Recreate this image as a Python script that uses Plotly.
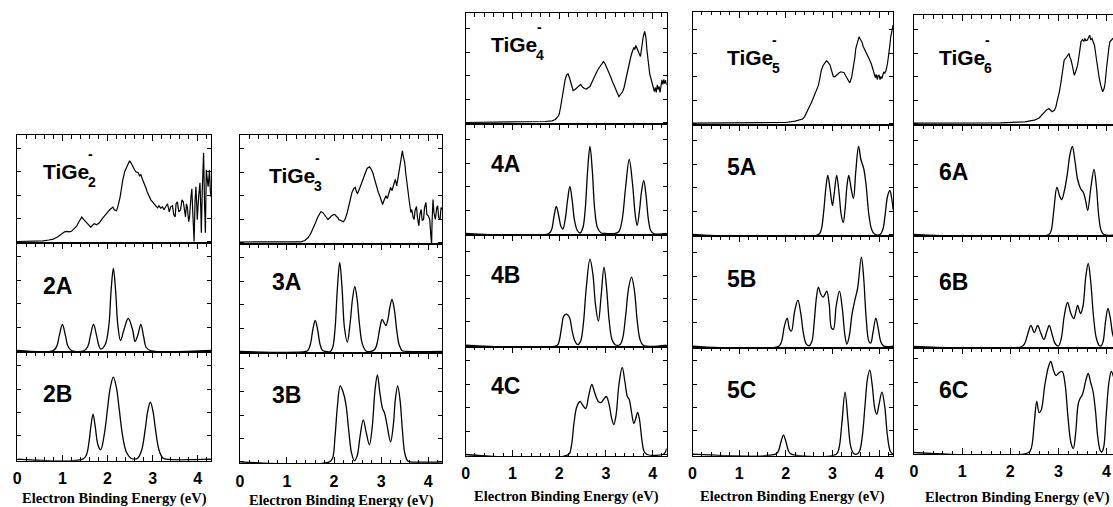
import plotly.graph_objects as go

# ---------------- data: (binding energy eV, intensity a.u.) ----------------
TIGE2 = [(0, 0.3), (0.2, 0.5), (0.4, 0.4), (0.58, 1.0), (0.7, 1.8), (0.8, 2.7), (0.9, 5), (1.0, 8.7),
         (1.05, 10), (1.1, 10.5), (1.15, 10), (1.2, 10.5), (1.26, 13), (1.32, 16), (1.38, 21), (1.43, 24.7),
         (1.48, 22), (1.54, 19), (1.6, 16), (1.63, 14.7), (1.68, 17), (1.71, 18), (1.76, 17), (1.82, 19),
         (1.88, 23), (1.93, 25.3), (1.99, 29), (2.05, 32), (2.08, 33), (2.12, 34.7), (2.15, 32), (2.2, 31),
         (2.24, 37), (2.28, 45), (2.34, 62), (2.38, 70), (2.43, 75), (2.47, 80), (2.49, 81), (2.52, 79),
         (2.56, 75), (2.6, 72), (2.63, 70), (2.68, 69), (2.71, 66), (2.74, 67), (2.77, 63), (2.81, 59),
         (2.85, 54), (2.88, 50), (2.92, 46), (2.96, 42), (3.0, 40), (3.04, 37), (3.07, 36), (3.11, 34),
         (3.14, 36), (3.18, 33.7), (3.22, 35), (3.25, 32), (3.29, 34.7), (3.33, 38), (3.37, 30), (3.4, 35),
         (3.44, 36), (3.47, 27), (3.5, 25), (3.52, 38), (3.55, 40), (3.58, 30), (3.62, 32), (3.65, 42),
         (3.68, 40), (3.71, 28), (3.73, 25), (3.75, 38), (3.77, 35), (3.8, 20), (3.82, 25), (3.85, 45),
         (3.87, 53), (3.89, 30), (3.92, 0.3), (3.94, 40), (3.96, 55), (3.98, 35), (3.99, 22), (4.02, 45),
         (4.05, 59), (4.07, 30), (4.08, 9), (4.1, 50), (4.13, 89), (4.15, 40), (4.17, 9), (4.19, 72),
         (4.21, 60), (4.23, 55), (4.25, 65), (4.26, 72), (4.28, 50), (4.3, 45)]

SIM_2A = [(0, 0), (0.80, 0), (0.88, 4.7), (0.93, 14.6), (1.00, 26), (1.07, 14.6), (1.12, 4.7), (1.20, 0),
          (1.49, 0), (1.57, 4.7), (1.62, 14.6), (1.69, 26), (1.76, 14.6), (1.81, 4.7), (1.85, 1.5),
          (1.95, 6), (2.03, 25), (2.08, 60), (2.13, 82), (2.18, 60), (2.23, 25), (2.29, 10), (2.36, 20),
          (2.46, 32), (2.56, 20), (2.61, 9), (2.67, 15), (2.74, 26), (2.80, 14), (2.86, 3), (2.95, 0), (4.3, 0)]

SIM_2B = [(0, 0), (1.45, 0), (1.53, 4), (1.59, 17), (1.63, 32), (1.68, 45), (1.73, 32), (1.79, 14),
          (1.85, 9.5), (1.93, 25), (2.00, 50), (2.06, 71), (2.13, 82), (2.20, 71), (2.26, 50), (2.34, 22),
          (2.42, 7), (2.52, 1), (2.60, 0), (2.68, 1.5), (2.76, 9.4), (2.84, 31), (2.89, 47.6), (2.95, 57),
          (3.01, 47.6), (3.06, 31), (3.14, 9.4), (3.22, 1.5), (3.30, 0), (4.3, 0)]

TIGE3 = [(0, 0.5), (0.5, 0.5), (1.0, 0.5), (1.3, 0.7), (1.38, 2), (1.45, 5), (1.5, 8.5), (1.55, 13),
         (1.6, 19), (1.65, 25), (1.69, 29), (1.72, 30.7), (1.76, 30), (1.8, 28), (1.84, 25), (1.87, 23),
         (1.91, 25), (1.95, 26.7), (2.0, 28), (2.03, 27.5), (2.05, 26), (2.08, 25), (2.1, 23), (2.15, 22),
         (2.2, 20.7), (2.24, 24), (2.28, 30), (2.33, 40), (2.38, 50), (2.42, 54), (2.45, 55), (2.48, 50),
         (2.5, 49), (2.55, 55), (2.6, 61.7), (2.65, 68), (2.7, 74), (2.75, 75.7), (2.78, 74), (2.82, 70),
         (2.86, 63), (2.9, 56.7), (2.94, 50), (2.97, 46.7), (3.0, 42), (3.03, 38), (3.06, 42), (3.1, 46.7),
         (3.13, 44), (3.16, 50), (3.2, 55), (3.23, 52), (3.26, 58), (3.3, 63), (3.33, 56.7), (3.36, 66),
         (3.4, 80), (3.43, 88), (3.45, 91.7), (3.47, 86), (3.5, 80), (3.52, 70), (3.55, 56.7), (3.58, 46),
         (3.6, 40), (3.63, 30), (3.65, 33), (3.68, 25), (3.7, 23), (3.72, 32), (3.75, 36), (3.77, 25),
         (3.8, 16.7), (3.82, 28), (3.85, 33), (3.87, 22), (3.9, 23), (3.92, 35), (3.95, 40), (3.97, 28),
         (4.0, 26.7), (4.03, 23), (4.05, 10), (4.07, -2.7), (4.08, 20), (4.1, 43), (4.12, 30), (4.15, 23),
         (4.18, 35), (4.2, 36.7), (4.22, 25), (4.25, 23), (4.27, 35), (4.3, 33)]

SIM_3A = [(0, 0), (1.40, 0), (1.45, 1.4), (1.50, 7.7), (1.55, 22), (1.60, 31), (1.65, 22), (1.70, 7.7),
          (1.75, 1.4), (1.82, 0), (1.92, 0), (1.97, 4), (2.02, 22), (2.07, 63), (2.12, 89), (2.17, 63),
          (2.22, 24), (2.28, 9.5), (2.34, 28), (2.39, 52), (2.44, 65), (2.49, 52), (2.54, 27), (2.60, 7.6),
          (2.68, 0.5), (2.78, 0), (2.87, 2.5), (2.92, 9.5), (2.97, 23), (3.02, 32), (3.07, 28), (3.10, 26),
          (3.15, 33.7), (3.18, 43), (3.23, 52), (3.28, 41.6), (3.33, 21.4), (3.38, 7), (3.45, 0.7),
          (3.55, 0), (4.3, 0)]

SIM_3B = [(0, 0), (1.90, 0), (1.97, 4), (2.02, 25), (2.07, 55), (2.13, 76), (2.19, 70), (2.25, 58),
          (2.31, 32), (2.37, 9), (2.43, 1), (2.49, 6), (2.55, 25), (2.62, 42), (2.68, 30), (2.75, 17),
          (2.81, 35), (2.87, 72), (2.92, 87), (2.97, 70), (3.03, 53), (3.07, 49), (3.12, 38), (3.20, 20),
          (3.26, 38), (3.30, 62), (3.35, 76), (3.40, 62), (3.45, 32), (3.50, 9), (3.56, 1), (3.62, 0), (4.3, 0)]

TIGE4 = [(0, 0), (0.5, 0.2), (1.0, 0.3), (1.5, 0.7), (1.7, 1), (1.85, 1.7), (1.92, 3), (1.96, 5), (2.0, 8),
         (2.03, 15), (2.06, 25), (2.1, 36), (2.13, 43), (2.16, 47.5), (2.19, 48.7), (2.22, 45), (2.26, 38),
         (2.3, 32), (2.34, 33), (2.38, 35), (2.42, 37), (2.46, 38), (2.5, 35.5), (2.54, 34), (2.58, 33.5),
         (2.62, 34.5), (2.66, 36), (2.7, 40), (2.74, 44), (2.78, 49), (2.82, 52), (2.86, 55), (2.9, 58),
         (2.93, 60.5), (2.95, 61), (2.98, 59), (3.02, 55), (3.06, 51), (3.1, 46), (3.14, 41), (3.18, 36),
         (3.2, 35), (3.23, 31), (3.26, 28), (3.28, 26), (3.3, 27.5), (3.33, 30), (3.36, 31), (3.39, 35),
         (3.42, 42), (3.46, 51), (3.5, 59), (3.53, 65), (3.56, 70), (3.58, 72.7), (3.6, 75), (3.62, 73),
         (3.64, 77), (3.66, 75), (3.68, 72), (3.7, 70), (3.72, 68), (3.74, 66), (3.76, 71), (3.78, 79),
         (3.8, 86), (3.82, 90), (3.83, 91), (3.85, 87), (3.86, 84), (3.88, 72), (3.9, 63), (3.92, 55),
         (3.94, 48), (3.96, 45), (3.98, 40), (4.0, 37.7), (4.02, 34), (4.04, 31), (4.06, 35), (4.08, 30),
         (4.1, 37.7), (4.12, 33), (4.14, 36), (4.16, 30), (4.18, 38), (4.2, 42.7), (4.22, 38), (4.24, 43),
         (4.26, 39), (4.28, 42), (4.3, 37.7)]

SIM_4A = [(0, 0), (1.78, 0), (1.84, 4), (1.89, 17), (1.94, 27), (1.99, 18), (2.04, 7), (2.08, 4.5),
          (2.13, 14), (2.18, 33), (2.23, 47), (2.28, 33), (2.33, 13), (2.39, 3), (2.45, 0.5), (2.51, 6),
          (2.56, 25), (2.61, 63), (2.66, 87), (2.71, 63), (2.76, 25), (2.82, 6), (2.90, 0.5), (3.0, 0),
          (3.20, 0), (3.28, 2), (3.35, 14), (3.42, 45), (3.50, 74), (3.57, 50), (3.63, 18), (3.67, 8),
          (3.72, 23), (3.76, 41), (3.81, 53), (3.86, 38), (3.91, 14), (3.96, 3), (4.02, 0), (4.3, 0)]

SIM_4B = [(0, 0), (1.96, 0), (2.0, 4), (2.05, 17), (2.10, 29), (2.16, 31), (2.22, 28), (2.28, 14),
          (2.34, 4), (2.40, 0.5), (2.46, 4), (2.52, 22), (2.58, 57), (2.66, 86), (2.72, 72), (2.78, 40),
          (2.84, 24), (2.90, 50), (2.96, 78), (3.01, 60), (3.07, 25), (3.13, 6), (3.2, 0.5), (3.3, 0.5),
          (3.36, 7), (3.42, 28), (3.49, 58), (3.55, 68), (3.61, 55), (3.67, 25), (3.73, 6), (3.80, 0), (4.3, 0)]

SIM_4C = [(0, 0), (2.20, 0), (2.26, 8), (2.32, 32), (2.38, 48), (2.45, 53), (2.51, 49), (2.57, 46),
          (2.63, 58), (2.70, 70), (2.76, 62), (2.84, 53), (2.90, 52), (2.95, 55), (3.01, 58), (3.07, 50),
          (3.12, 37), (3.17, 30), (3.22, 40), (3.28, 70), (3.35, 87), (3.41, 72), (3.46, 58), (3.50, 55),
          (3.55, 42), (3.60, 31), (3.64, 36), (3.68, 42), (3.72, 35), (3.77, 15), (3.82, 3), (3.88, 0),
          (4.22, 0), (4.27, 2), (4.3, 6)]

TIGE5 = [(0, 0.3), (1.0, 0.3), (1.5, 0.4), (2.0, 1), (2.2, 2.3), (2.3, 3.3), (2.36, 4.5), (2.4, 6.7),
         (2.45, 11), (2.5, 16.7), (2.55, 21), (2.6, 26.7), (2.65, 32), (2.7, 38.3), (2.73, 45), (2.76, 53),
         (2.8, 58), (2.84, 61.5), (2.87, 62.7), (2.9, 61.5), (2.95, 58.3), (2.98, 53), (3.0, 50), (3.02, 47),
         (3.05, 46.7), (3.08, 48), (3.1, 49.3), (3.14, 50.5), (3.18, 51.7), (3.22, 51), (3.25, 50.7),
         (3.28, 48), (3.3, 46), (3.34, 42), (3.37, 40.7), (3.41, 46), (3.45, 56.7), (3.48, 66), (3.5, 75),
         (3.53, 81), (3.57, 86.7), (3.6, 84), (3.63, 81.7), (3.66, 77), (3.7, 73.3), (3.74, 70), (3.78, 66),
         (3.8, 63.3), (3.83, 60), (3.86, 56), (3.88, 52), (3.9, 50.7), (3.92, 46), (3.94, 49), (3.96, 44),
         (3.98, 48), (4.0, 48.3), (4.02, 44), (4.04, 47), (4.06, 45), (4.08, 50), (4.1, 51.7), (4.12, 50),
         (4.15, 53.3), (4.18, 60), (4.2, 70), (4.23, 78), (4.25, 86.7), (4.28, 93), (4.3, 98.3)]

SIM_5A = [(0, 0), (2.70, 0), (2.76, 5), (2.81, 22), (2.86, 47), (2.90, 59), (2.95, 45), (3.00, 29),
          (3.04, 42), (3.09, 59), (3.14, 42), (3.19, 19), (3.23, 12), (3.27, 25), (3.31, 48), (3.35, 59),
          (3.40, 46), (3.45, 36), (3.50, 63), (3.56, 88), (3.61, 75), (3.67, 66), (3.72, 50), (3.78, 20),
          (3.84, 5), (3.90, 0.5), (4.02, 0), (4.08, 5), (4.13, 20), (4.18, 38), (4.23, 44), (4.27, 36), (4.30, 25)]

SIM_5B = [(0, 0), (1.85, 0), (1.91, 5), (1.97, 20), (2.03, 28), (2.08, 17), (2.12, 15), (2.19, 35),
          (2.26, 46), (2.32, 33), (2.38, 12), (2.44, 2), (2.50, 0.5), (2.56, 5), (2.61, 25), (2.66, 50),
          (2.70, 59), (2.75, 52), (2.80, 49), (2.84, 52), (2.88, 55), (2.93, 42), (2.98, 18), (3.02, 17),
          (3.08, 40), (3.15, 55), (3.21, 38), (3.27, 10), (3.31, 2), (3.36, 10), (3.42, 32), (3.48, 46),
          (3.54, 58), (3.62, 89), (3.67, 68), (3.72, 30), (3.78, 5), (3.82, 3), (3.87, 14), (3.93, 28),
          (3.98, 18), (4.04, 4), (4.10, 0), (4.3, 0)]

SIM_5C = [(0, 0), (1.78, 0), (1.84, 3), (1.90, 13), (1.95, 19), (2.00, 13), (2.06, 3), (2.12, 0),
          (3.08, 0), (3.14, 6), (3.20, 30), (3.27, 62), (3.33, 35), (3.39, 8), (3.45, 1), (3.52, 0),
          (3.58, 3), (3.64, 18), (3.70, 50), (3.75, 75), (3.80, 84), (3.85, 70), (3.91, 45), (3.95, 40),
          (4.00, 50), (4.06, 62), (4.12, 48), (4.18, 18), (4.24, 3), (4.3, 0)]

TIGE6 = [(0, 0.3), (1.0, 0.5), (1.8, 0.7), (2.3, 1.7), (2.5, 3.3), (2.6, 5.5), (2.65, 8.3), (2.7, 11),
         (2.75, 13.3), (2.8, 15), (2.84, 13), (2.87, 11.7), (2.92, 13.3), (2.95, 17), (2.97, 21.7), (3.0, 27),
         (3.02, 31.7), (3.05, 40), (3.07, 48.3), (3.1, 57), (3.12, 63.3), (3.15, 65), (3.17, 66.7), (3.2, 68),
         (3.22, 70), (3.24, 66), (3.26, 64), (3.28, 60), (3.3, 55), (3.33, 48.3), (3.36, 52), (3.4, 58.3),
         (3.43, 68), (3.47, 81.7), (3.5, 84), (3.53, 82), (3.55, 85), (3.57, 83), (3.6, 83.3), (3.62, 86),
         (3.65, 88.3), (3.67, 84), (3.7, 85), (3.72, 82), (3.75, 78.3), (3.78, 68), (3.82, 53.3), (3.85, 45),
         (3.88, 38.3), (3.92, 31.7), (3.95, 35), (3.97, 40), (4.0, 55), (4.02, 66.7), (4.05, 76), (4.07, 81.7),
         (4.1, 83.3), (4.13, 85), (4.2, 86)]

SIM_6A = [(0, 0), (2.80, 0), (2.85, 4), (2.90, 22), (2.97, 47), (3.03, 38), (3.07, 35), (3.13, 45),
          (3.19, 62), (3.24, 80), (3.29, 88), (3.34, 75), (3.40, 55), (3.46, 46), (3.52, 42), (3.57, 33),
          (3.61, 24), (3.67, 45), (3.74, 65), (3.79, 48), (3.84, 18), (3.89, 4), (3.95, 0), (4.3, 0)]

SIM_6B = [(0, 0), (2.24, 0), (2.30, 3), (2.36, 12), (2.43, 21), (2.50, 14), (2.57, 21), (2.63, 14),
          (2.70, 7), (2.76, 15), (2.81, 21), (2.87, 12), (2.93, 3), (3.0, 0.5), (3.06, 8), (3.12, 30),
          (3.19, 44), (3.26, 33), (3.32, 28), (3.36, 34), (3.40, 41), (3.46, 33), (3.51, 40), (3.57, 70),
          (3.62, 83), (3.67, 66), (3.73, 30), (3.79, 8), (3.85, 1), (3.89, 0.5), (3.93, 5), (3.98, 25),
          (4.03, 38), (4.08, 28), (4.13, 12), (4.2, 3)]

SIM_6C = [(0, 0), (2.38, 0), (2.44, 5), (2.50, 30), (2.55, 51), (2.60, 40), (2.64, 42), (2.72, 68),
          (2.79, 85), (2.84, 91), (2.90, 82), (2.95, 77), (3.02, 80), (3.08, 81), (3.14, 68), (3.20, 35),
          (3.26, 10), (3.31, 4), (3.36, 20), (3.41, 48), (3.45, 54), (3.50, 58), (3.57, 72), (3.62, 79),
          (3.67, 70), (3.72, 61), (3.77, 42), (3.82, 15), (3.87, 2), (3.90, 0.5), (3.94, 5), (3.99, 35),
          (4.05, 70), (4.10, 81), (4.15, 75)]

X_TICKS = [0, 1, 2, 3, 4]
X_TITLE = "Electron Binding Energy (eV)"

# ---------------- layout description ----------------
W, H = 1113, 507
SANS = "Liberation Sans, Arial, Helvetica, sans-serif"
SERIF = "Liberation Serif, Times New Roman, Times, serif"

COLUMNS = [
    dict(x0=13.3, x1=208.0, xmax=4.3, right=True, rows=[135, 243.3, 352, 460.7], title_y=498,
         panels=[(TIGE2, "exp", "2", 0.52, 70), (SIM_2A, "sim", "2A", 0.52, 64.5),
                 (SIM_2B, "sim", "2B", 0.52, 65)]),
    dict(x0=236.7, x1=440.0, xmax=4.3, right=True, rows=[135, 244, 353, 463.3], title_y=500,
         panels=[(TIGE3, "exp", "3", 0.58, 67), (SIM_3A, "sim", "3A", 0.65, 70),
                 (SIM_3B, "sim", "3B", 0.63, 67)]),
    dict(x0=463.3, x1=665.0, xmax=4.3, right=True, rows=[13.3, 124, 235, 346.7, 456], title_y=496.5,
         panels=[(TIGE4, "exp", "4", 0.5, 78), (SIM_4A, "sim", "4A", 0.51, 70),
                 (SIM_4B, "sim", "4B", 0.51, 70), (SIM_4C, "sim", "4C", 0.51, 69)]),
    dict(x0=691.0, x1=892.3, xmax=4.3, right=True, rows=[11.7, 125, 236, 347.7, 455.7], title_y=496,
         panels=[(TIGE5, "exp", "5", 0.69, 66), (SIM_5A, "sim", "5A", 0.69, 67.5),
                 (SIM_5B, "sim", "5B", 0.69, 67), (SIM_5C, "sim", "5C", 0.69, 64.5)]),
    dict(x0=913.3, x1=1113.0, xmax=4.135, right=False, rows=[15, 125, 236, 348, 454], title_y=497,
         panels=[(TIGE6, "exp", "6", 0.48, 66), (SIM_6A, "sim", "6A", 0.48, 63),
                 (SIM_6B, "sim", "6B", 0.48, 65), (SIM_6C, "sim", "6C", 0.48, 63)]),
]

fig = go.Figure()
layout = {}
annotations = []
n = 0
for col in COLUMNS:
    npan = len(col["panels"])
    xdom = [col["x0"] / W, min(col["x1"] / W, 1.0)]
    for k, (data, kind, label, lx, ly) in enumerate(col["panels"]):
        n += 1
        sfx = "" if n == 1 else str(n)
        top, bot = col["rows"][k], col["rows"][k + 1]
        hpx = bot - top
        is_bottom = (k == npan - 1)
        layout["xaxis" + sfx] = dict(
            domain=xdom, anchor="y" + sfx, range=[0, col["xmax"]],
            showline=True, linecolor="black", linewidth=1,
            mirror="ticks" if is_bottom else True,
            side="bottom" if is_bottom else "top",
            ticks="inside", ticklen=6, tickwidth=1, tickcolor="black",
            tickmode="array", tickvals=X_TICKS, ticktext=["<b>%d</b>" % t for t in X_TICKS],
            minor=dict(dtick=0.2, tick0=0, ticks="inside", ticklen=3.5, tickwidth=1, tickcolor="black"),
            showticklabels=is_bottom, ticklabelstandoff=3,
            tickfont=dict(family=SANS, size=16, color="black"),
            showgrid=False, zeroline=False,
        )
        layout["yaxis" + sfx] = dict(
            domain=[1 - bot / H, 1 - top / H], anchor="x" + sfx, range=[-1.5, hpx - 1.5],
            showline=True, linecolor="black", linewidth=1,
            mirror="ticks" if col["right"] else False,
            ticks="inside", ticklen=4, tickwidth=1, tickcolor="black",
            tick0=0, dtick=23.4, showticklabels=False, showgrid=False, zeroline=False,
        )
        xs = [p[0] for p in data]
        ys = [p[1] for p in data]
        fig.add_trace(go.Scatter(
            x=xs, y=ys, xaxis="x" + sfx, yaxis="y" + sfx, mode="lines",
            line=dict(color="black", width=1.3 if kind == "sim" else 1.2,
                      shape="spline" if kind == "sim" else "linear", smoothing=1.0),
            showlegend=False, hoverinfo="skip"))
        if kind == "exp":
            annotations.append(dict(x=lx, y=ly, xref="x" + sfx, yref="y" + sfx, xanchor="left",
                                    yanchor="middle", showarrow=False, text="<b>TiGe</b>",
                                    font=dict(family=SANS, size=21, color="black")))
            annotations.append(dict(x=lx, y=ly, xref="x" + sfx, yref="y" + sfx, xanchor="left",
                                    yanchor="middle", showarrow=False, text="<b>%s</b>" % label,
                                    xshift=45, yshift=-10,
                                    font=dict(family=SANS, size=14, color="black")))
            annotations.append(dict(x=lx, y=ly, xref="x" + sfx, yref="y" + sfx, xanchor="center",
                                    yanchor="middle", showarrow=False, text="<b>-</b>",
                                    xshift=50, yshift=18,
                                    font=dict(family=SANS, size=14, color="black")))
        else:
            annotations.append(dict(x=lx, y=ly, xref="x" + sfx, yref="y" + sfx, xanchor="left",
                                    yanchor="middle", showarrow=False, text="<b>%s</b>" % label,
                                    font=dict(family=SANS, size=23, color="black")))
    full_w = (col["x1"] - col["x0"]) * (4.3 / col["xmax"])
    cx = col["x0"] + full_w / 2
    annotations.append(dict(x=cx / W, y=1 - col["title_y"] / H, xref="paper", yref="paper",
                            xanchor="center", yanchor="middle", showarrow=False,
                            text="<b>%s</b>" % X_TITLE,
                            font=dict(family=SERIF, size=14.5, color="black")))

fig.update_layout(**layout)
fig.update_layout(width=W, height=H, margin=dict(l=0, r=0, t=0, b=0),
                  paper_bgcolor="white", plot_bgcolor="white",
                  annotations=annotations, showlegend=False)
fig.write_html("out.html", config={"displayModeBar": False, "staticPlot": True},
               post_script="document.body.style.margin='0px';document.body.style.padding='0px';"
                           "document.documentElement.style.overflow='hidden';")
